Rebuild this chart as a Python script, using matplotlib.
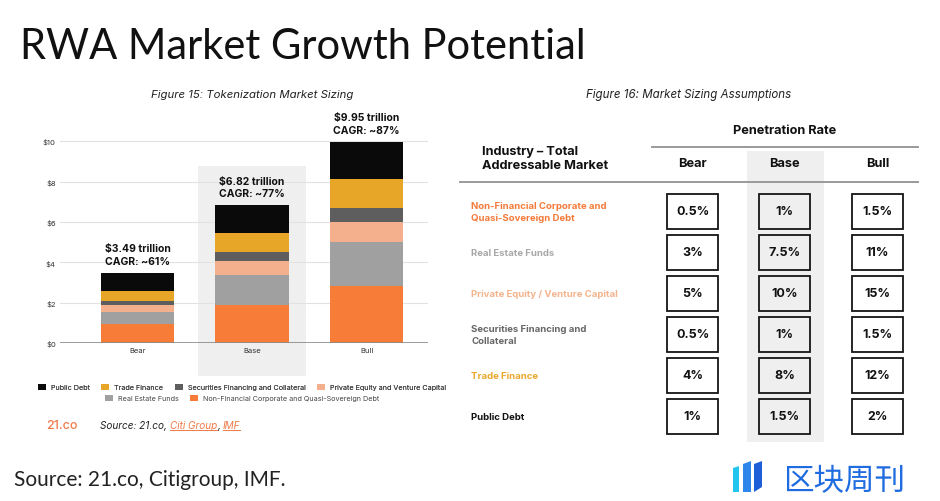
import numpy as np
import matplotlib
matplotlib.use("Agg")
import matplotlib.pyplot as plt
from matplotlib.patches import Rectangle, Polygon

plt.rcParams['font.family'] = ['Inter', 'DejaVu Sans']

# ---------------- data ----------------
scenarios = ["Bear", "Base", "Bull"]
totals = ["$3.49 trillion", "$6.82 trillion", "$9.95 trillion"]
cagr = ["CAGR: ~61%", "CAGR: ~77%", "CAGR: ~87%"]

# stack segments, bottom -> top
segments = ["Non-Financial Corporate and Quasi-Sovereign Debt", "Real Estate Funds",
            "Private Equity and Venture Capital", "Securities Financing and Collateral",
            "Trade Finance", "Public Debt"]
seg_values = [
    [0.94, 1.88, 2.81],
    [0.58, 1.49, 2.20],
    [0.36, 0.68, 1.01],
    [0.20, 0.45, 0.66],
    [0.48, 0.94, 1.44],
    [0.93, 1.38, 1.83],
]
seg_colors = ["#F67C38", "#A0A0A0", "#F4B08C", "#5E5E5E", "#E8A628", "#0A0A0A"]
yticks = [0, 2, 4, 6, 8, 10]

legend_row1 = ["Public Debt", "Trade Finance", "Securities Financing and Collateral",
               "Private Equity and Venture Capital"]
legend_row2 = ["Real Estate Funds", "Non-Financial Corporate and Quasi-Sovereign Debt"]

# table (Figure 16)
industries = ["Non-Financial Corporate and\nQuasi-Sovereign Debt", "Real Estate Funds",
              "Private Equity / Venture Capital", "Securities Financing and\nCollateral",
              "Trade Finance", "Public Debt"]
industry_colors = ["#F47A3A", "#A8A8A8", "#F3B48D", "#666666", "#E9A82C", "#111111"]
bear_rate = ["0.5%", "3%", "5%", "0.5%", "4%", "1%"]
base_rate = ["1%", "7.5%", "10%", "1%", "8%", "1.5%"]
bull_rate = ["1.5%", "11%", "15%", "1.5%", "12%", "2%"]

# ---------------- figure ----------------
W, H = 940, 502
fig = plt.figure(figsize=(9.4, 5.02), dpi=100)
fig.patch.set_facecolor("white")

# overlay axes in pixel coords for titles / table / footer
ov = fig.add_axes([0, 0, 1, 1])
ov.set_xlim(0, W)
ov.set_ylim(H, 0)
ov.axis("off")

ov.text(20, 59, "RWA Market Growth Potential", fontsize=30, family=["Lato", "DejaVu Sans"],
        va="baseline", ha="left", color="#111")
ov.text(14, 486, "Source: 21.co, Citigroup, IMF.", fontsize=15, family=["Lato", "DejaVu Sans"],
        va="baseline", ha="left", color="#222")

# ---------------- left chart ----------------
ax = fig.add_axes([60 / W, (H - 344) / H, 368 / W, 222 / H])
ax.patch.set_alpha(0)
x = np.arange(len(scenarios))
bw = 0.643

ax.add_patch(Rectangle((1 - 0.47, -0.149), 0.94, 0.946, transform=ax.get_xaxis_transform(),
                       clip_on=False, color="#EFEFEF", zorder=0, lw=0))

bottom = np.zeros(len(scenarios))
handles = {}
for name, vals, c in zip(segments, seg_values, seg_colors):
    bars = ax.bar(x, vals, bw, bottom=bottom, color=c, zorder=2, lw=0)
    handles[name] = bars
    bottom += np.array(vals)

for i in range(len(scenarios)):
    ax.annotate(totals[i] + "\n" + cagr[i], (x[i], bottom[i]), xytext=(0, 5),
                textcoords="offset points", ha="center", va="bottom",
                fontsize=7.5, fontweight="bold", linespacing=1.35, color="#111")

ax.set_xlim(-0.677, 2.537)
ax.set_ylim(0, 11)
ax.set_yticks(yticks)
ax.set_yticklabels(["$%d" % v for v in yticks])
ax.set_xticks(x)
ax.set_xticklabels(scenarios)
ax.tick_params(length=0, labelsize=5.5, colors="#333")
ax.tick_params(axis="y", pad=3)
ax.tick_params(axis="x", pad=3)
ax.yaxis.grid(True, color="#E2E2E2", lw=0.8)
ax.set_axisbelow(True)
for s in ax.spines.values():
    s.set_visible(False)
ax.axhline(0, color="#8A8A8A", lw=1.2, zorder=3)

ov.text(252, 95, "Figure 15: Tokenization Market Sizing", fontsize=8.2, style="italic",
        ha="center", va="center", color="#222")
ov.text(252, 372, "2030 Market Size", fontsize=5, ha="center", va="center", color="#333")

leg1 = fig.legend([handles[n][0] for n in legend_row1], legend_row1, loc="center",
                  bbox_to_anchor=(242 / W, 1 - 388 / H), ncol=4, frameon=False, fontsize=5.2,
                  handlelength=1.1, handleheight=1.1, columnspacing=1.6, handletextpad=0.7,
                  borderpad=0, labelcolor="#444")
fig.legend([handles[n][0] for n in legend_row2], legend_row2, loc="center",
           bbox_to_anchor=(242 / W, 1 - 399 / H), ncol=2, frameon=False, fontsize=5.2,
           handlelength=1.1, handleheight=1.1, columnspacing=1.6, handletextpad=0.7,
           borderpad=0, labelcolor="#444")
fig.add_artist(leg1)

# 21.co logo + source line with underlined links
ov.text(46, 426, "21.co", fontsize=9, fontweight="medium", color="#F07A48", va="center")
fig.canvas.draw()
rend = fig.canvas.get_renderer()
xs = 100
for piece, col, ul in [("Source: 21.co, ", "#222", False), ("Citi Group", "#F07A48", True),
                       (", ", "#222", False), ("IMF", "#F07A48", True)]:
    t = ov.text(xs, 426, piece, fontsize=7.2, style="italic", color=col, va="center", ha="left")
    w = t.get_window_extent(rend).width
    if ul:
        ov.plot([xs, xs + w], [431, 431], color=col, lw=0.7)
    xs += w

# ---------------- right table ----------------
ov.text(689, 95, "Figure 16: Market Sizing Assumptions", fontsize=8.3, style="italic",
        ha="center", va="center", color="#222")

col_x = [692.8, 784.7, 877.5]
ov.add_patch(Rectangle((747.3, 151.7), 76.7, 291.3, color="#EFEFEF", lw=0, zorder=0))
ov.text(785, 131, "Penetration Rate", fontsize=9.2, fontweight="bold", ha="center", va="center",
        color="#111")
ov.plot([652, 918], [148, 148], color="#9A9A9A", lw=1.4)
ov.plot([460, 918], [183, 183], color="#9A9A9A", lw=1.4)
ov.text(482, 159, "Industry \u2013 Total\nAddressable Market", fontsize=9.2, fontweight="bold",
        ha="left", va="center", linespacing=1.3, color="#111")
for cx, lab in zip(col_x, scenarios):
    ov.text(cx, 164, lab, fontsize=9.2, fontweight="bold", ha="center", va="center", color="#111")

row_y0, row_dy = 212.5, 41
box_w, box_h = 51, 35
for r in range(len(industries)):
    cy = row_y0 + r * row_dy
    ov.text(471, cy, industries[r], fontsize=6.9, fontweight="bold", color=industry_colors[r],
            ha="left", va="center", linespacing=1.45)
    for j, (cx, vals) in enumerate(zip(col_x, [bear_rate, base_rate, bull_rate])):
        fc = "none" if j == 1 else "white"
        ov.add_patch(Rectangle((cx - box_w / 2, cy - box_h / 2), box_w, box_h, fc=fc,
                               ec="#151515", lw=1.3, zorder=2))
        ov.text(cx, cy, vals[r], fontsize=9, fontweight="bold", ha="center", va="center",
                color="#111", zorder=3)

# ---------------- footer brand mark ----------------
ov.add_patch(Polygon([[733, 469], [739, 467], [739, 493], [733, 493]], color="#22C5EE", lw=0))
ov.add_patch(Polygon([[743, 465], [751, 462], [751, 493], [743, 493]], color="#2F86EA", lw=0))
ov.add_patch(Polygon([[754, 465], [762, 462], [762, 488], [754, 493]], color="#1E5FD8", lw=0))
ov.text(844, 482, "区块周刊", fontsize=22, family=["Noto Sans CJK SC", "DejaVu Sans"],
        fontweight="medium", color="#1F6BE0", ha="center", va="center")

fig.savefig("out.png", dpi=100)
